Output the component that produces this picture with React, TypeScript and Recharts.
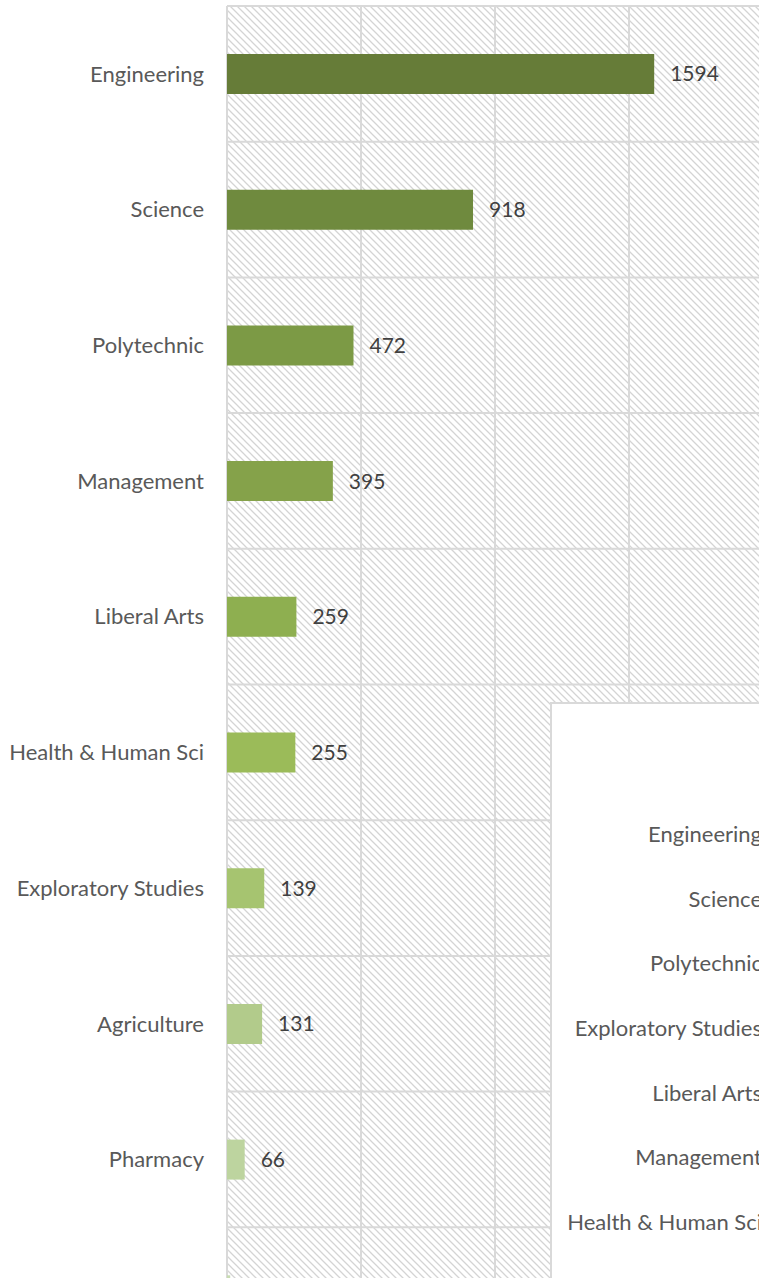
import { BarChart, Bar, XAxis, YAxis, CartesianGrid, Cell, LabelList } from "recharts";

const colleges = [
	"Engineering",
	"Science",
	"Polytechnic",
	"Management",
	"Liberal Arts",
	"Health & Human Sci",
	"Exploratory Studies",
	"Agriculture",
	"Pharmacy",
	"Education",
];
const students = [1594, 918, 472, 395, 259, 255, 139, 131, 66, 12];
const barColors = [
	"#667c38",
	"#6f8a3e",
	"#7c9a45",
	"#85a24a",
	"#8eaf50",
	"#9bbb59",
	"#a6c470",
	"#b2cb8b",
	"#bdd49f",
	"#c8dcb2",
];
const xTicks = [0, 500, 1000, 1500, 2000];

// second (overlapping) chart, only its category axis is in view
const otherColleges = [
	"Engineering",
	"Science",
	"Polytechnic",
	"Exploratory Studies",
	"Liberal Arts",
	"Management",
	"Health & Human Sci",
	"Agriculture",
];

const data = colleges.map((name, i) => ({ name, value: students[i] }));
const otherData = otherColleges.map((name) => ({ name }));

const font = "Lato, 'Open Sans', sans-serif";

const bandLines = ({ offset }: any) => {
	const n = data.length;
	const out: number[] = [];
	for (let i = 0; i <= n; i++) out.push(offset.top + (i * offset.height) / n);
	return out;
};

const App = () => {
	return (
		<div
			style={{
				position: "absolute",
				top: 0,
				left: 0,
				width: 759,
				height: 1278,
				overflow: "hidden",
				background: "#fff",
				fontFamily: font,
			}}
		>
			<BarChart
				width={770}
				height={1370}
				data={data}
				layout="vertical"
				margin={{ top: 6, right: 7, bottom: 7, left: 0 }}
				barCategoryGap={0}
			>
				<defs>
					<pattern id="hatch" patternUnits="userSpaceOnUse" width="7" height="7">
						<path d="M-2,-2 L9,9 M-2,5 L2,9 M5,-2 L9,2" stroke="#d4d4d4" strokeWidth="1.3" />
					</pattern>
				</defs>
				<CartesianGrid
					stroke="#d9d9d9"
					strokeWidth={2}
					fill="url(#hatch)"
					fillOpacity={1}
					horizontalCoordinatesGenerator={bandLines}
				/>
				<XAxis type="number" domain={[0, 2000]} ticks={xTicks} hide />
				<YAxis
					type="category"
					dataKey="name"
					width={227}
					tickLine={false}
					axisLine={false}
					tickSize={0}
					tickMargin={23}
					tick={{ fill: "#595959", fontSize: 22, fontFamily: font }}
					interval={0}
				/>
				<Bar dataKey="value" barSize={40} isAnimationActive={false}>
					{data.map((d, i) => (
						<Cell key={d.name} fill={barColors[i]} />
					))}
					<LabelList
						dataKey="value"
						position="right"
						offset={16}
						fill="#404040"
						fontSize={21}
						fontFamily={font}
					/>
				</Bar>
			</BarChart>

			<div
				style={{
					position: "absolute",
					left: 550,
					top: 702,
					width: 420,
					height: 700,
					background: "#fff",
					border: "2px solid #d9d9d9",
				}}
			>
				<BarChart
					width={420}
					height={640}
					data={otherData}
					layout="vertical"
					margin={{ top: 98, right: 10, bottom: 25, left: 0 }}
				>
					<XAxis type="number" domain={[0, 1]} hide />
					<YAxis
						type="category"
						dataKey="name"
						width={230}
						tickLine={false}
						axisLine={false}
						tickSize={0}
						tickMargin={20}
						tick={{ fill: "#595959", fontSize: 22, fontFamily: font }}
						interval={0}
					/>
				</BarChart>
			</div>
		</div>
	);
};

export default App;
